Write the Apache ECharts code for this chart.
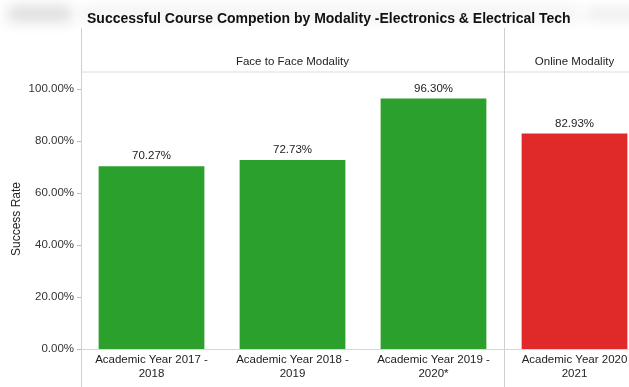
<!DOCTYPE html>
<html>
<head>
<meta charset="utf-8">
<script src="https://cdn.jsdelivr.net/npm/echarts@6/dist/echarts.min.js"></script>
<style>
  html, body { margin: 0; padding: 0; background: #fff; }
  #chart { width: 629px; height: 387px; }
</style>
</head>
<body>
<div id="chart"></div>
<script>
// Academic years (two-line labels) and their success rates (%)
const categories = [
  'Academic Year 2017 -\n2018',
  'Academic Year 2018 -\n2019',
  'Academic Year 2019 -\n2020*',
  'Academic Year 2020\n2021'
];
const successRates = [70.27, 72.73, 96.30, 82.93];
const barModality = ['face', 'face', 'face', 'online'];

// Modality groups: header text and first/last category index
const groupNames = ['Face to Face Modality', 'Online Modality'];
const groupFirst = [0, 3];
const groupLast = [2, 3];

const modalityColor = { face: '#2ca02c', online: '#e02a2a' };
const FONT = 'Liberation Sans, Arial, sans-serif';

const chart = echarts.init(document.getElementById('chart'));

chart.setOption({
  animation: false,
  backgroundColor: '#ffffff',
  title: {
    text: 'Successful Course Competion by Modality -Electronics & Electrical Tech',
    left: 82,
    top: 7,
    textStyle: { fontFamily: FONT, fontSize: 14, fontWeight: 'bold', color: '#111' }
  },
  grid: {
    left: 81, top: 89, width: 564, height: 260,
    containLabel: false,
    outerBoundsMode: 'none'
  },
  xAxis: {
    type: 'category',
    data: categories,
    axisLine: { show: true, lineStyle: { color: '#d6d6d6' } },
    axisTick: { show: false },
    axisLabel: {
      interval: 0,
      margin: 4,
      fontFamily: FONT, fontSize: 11.5, color: '#222', lineHeight: 14
    }
  },
  yAxis: {
    type: 'value',
    min: 0, max: 100, interval: 20,
    name: 'Success Rate',
    nameLocation: 'middle',
    nameGap: 58,
    nameMoveOverlap: false,
    nameTextStyle: { fontFamily: FONT, fontSize: 12, color: '#222' },
    axisLine: { show: false },
    axisTick: { show: true, length: 4, lineStyle: { color: '#bbb' } },
    splitLine: { show: false },
    axisLabel: {
      margin: 7,
      fontFamily: FONT, fontSize: 11.5, color: '#333',
      formatter: v => v.toFixed(2) + '%'
    }
  },
  series: [{
    type: 'bar',
    data: successRates.map((v, i) => ({
      value: v,
      itemStyle: { color: modalityColor[barModality[i]] }
    })),
    barWidth: '75%',
    label: {
      show: true,
      position: 'top',
      distance: 4,
      fontFamily: FONT, fontSize: 11.5, color: '#222',
      formatter: p => p.value.toFixed(2) + '%'
    }
  }]
});

// Panel frame and modality headers, placed from the category scale
function drawPanels() {
  const centers = categories.map((c, i) => chart.convertToPixel({ xAxisIndex: 0 }, i));
  const band = centers[1] - centers[0];
  const edgeLeft = i => centers[i] - band / 2;
  const edgeRight = i => centers[i] + band / 2;
  const H = chart.getHeight();
  const W = chart.getWidth();
  const frameTop = 28, headerLine = 72, headerText = 62;
  const lineStyle = { stroke: '#cfcfcf', lineWidth: 1 };

  // a blurred patch: the shape sits off-canvas and only its shadow shows
  const haze = (x, y, w, h, color, blur) => ({
    type: 'rect', z: -10, silent: true,
    shape: { x, y: y - 200, width: w, height: h },
    style: { fill: color, shadowBlur: blur, shadowColor: color, shadowOffsetY: 200 }
  });

  const elements = [];
  elements.push(haze(8, 6, 64, 16, '#dddddd', 14));
  elements.push(haze(585, 8, 60, 12, '#ececec', 14));
  elements.push(haze(80, 4, 500, 20, '#f6f6f6', 12));
  // header underline
  elements.push({
    type: 'line', silent: true,
    shape: { x1: edgeLeft(0), y1: headerLine, x2: W, y2: headerLine },
    style: { stroke: '#dcdcdc', lineWidth: 1 }
  });
  groupNames.forEach((name, g) => {
    const x0 = edgeLeft(groupFirst[g]);
    const x1 = edgeRight(groupLast[g]);
    elements.push({
      type: 'line', silent: true,
      shape: { x1: x0 + 0.5, y1: frameTop, x2: x0 + 0.5, y2: H },
      style: lineStyle
    });
    elements.push({
      type: 'text', silent: true,
      x: (x0 + x1) / 2, y: headerText,
      style: {
        text: name, fill: '#222', font: '11.5px ' + FONT,
        align: 'center', verticalAlign: 'middle'
      }
    });
  });
  chart.setOption({ graphic: { elements } });
}
drawPanels();
</script>
</body>
</html>
